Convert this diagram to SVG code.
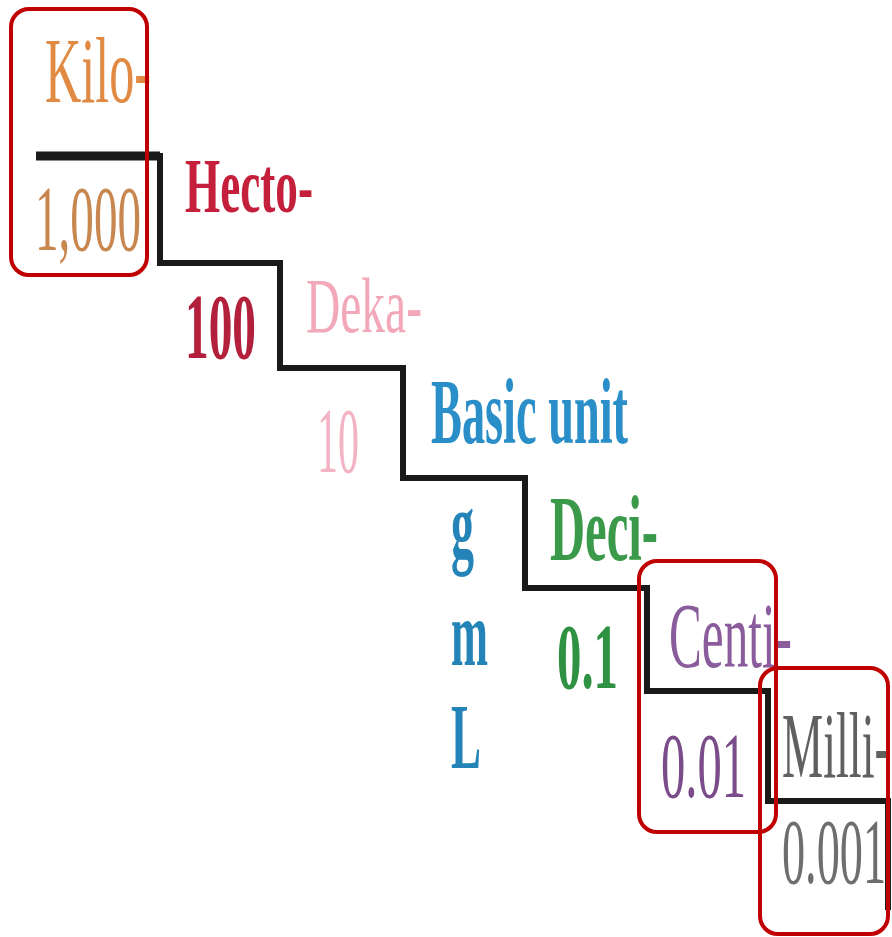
<svg xmlns="http://www.w3.org/2000/svg" width="892" height="937" viewBox="0 0 892 937">
<style>
.t{font-family:"Liberation Serif","Times New Roman",serif;font-weight:bold;font-size:94px}
.n{font-weight:normal}
.s{font-size:78px}
.stair{fill:none;stroke:#1a1a1a;stroke-width:6;stroke-linejoin:miter}
.hl{fill:none;stroke:#c00000;stroke-width:4}
</style>
<rect width="892" height="937" fill="#ffffff"/>
<g id="connectors">
<path class="stair" d="M36,156 H160 V263 H280 V368 H403 V478 H525 V588 H647 V691 H768 V801 H888 V910"/>
<path d="M36,156 H160" fill="none" stroke="#1a1a1a" stroke-width="9"/>
</g>
<g id="kilo">
<text class="t n" x="45" y="102" fill="#e08a44" textLength="106" lengthAdjust="spacingAndGlyphs">Kilo-</text>
<text class="t n" x="35" y="250" fill="#c8874e" textLength="106" lengthAdjust="spacingAndGlyphs">1,000</text>
</g>
<g id="hecto">
<text class="t s" x="185" y="212" fill="#c41f3b" textLength="128" lengthAdjust="spacingAndGlyphs">Hecto-</text>
<text class="t" x="185" y="358" fill="#b3203c" textLength="71" lengthAdjust="spacingAndGlyphs">100</text>
</g>
<g id="deka">
<text class="t s n" x="306" y="332" fill="#f2a8b8" textLength="116" lengthAdjust="spacingAndGlyphs">Deka-</text>
<text class="t n" x="317" y="472" fill="#f2b4c4" textLength="42" lengthAdjust="spacingAndGlyphs">10</text>
</g>
<g id="basic">
<text class="t" x="431" y="443" fill="#2a8fc8" textLength="197" lengthAdjust="spacingAndGlyphs">Basic unit</text>
<text class="t" x="451" y="557" fill="#2484b8" textLength="23" lengthAdjust="spacingAndGlyphs">g</text>
<text class="t" x="451" y="665" fill="#2484b8" textLength="37" lengthAdjust="spacingAndGlyphs">m</text>
<text class="t" x="451" y="768" fill="#2484b8" textLength="30" lengthAdjust="spacingAndGlyphs">L</text>
</g>
<g id="deci">
<text class="t" x="550" y="560" fill="#3a9a4a" textLength="108" lengthAdjust="spacingAndGlyphs">Deci-</text>
<text class="t" x="557" y="688" fill="#2f9142" textLength="61" lengthAdjust="spacingAndGlyphs">0.1</text>
</g>
<g id="centi">
<text class="t n" x="669" y="667" fill="#8a5c9c" textLength="123" lengthAdjust="spacingAndGlyphs">Centi-</text>
<text class="t n" x="661" y="797" fill="#7a4c8a" textLength="85" lengthAdjust="spacingAndGlyphs">0.01</text>
</g>
<g id="milli">
<text class="t n" x="782" y="777" fill="#606060" textLength="108" lengthAdjust="spacingAndGlyphs">Milli-</text>
<text class="t n" x="782" y="883" fill="#6e6e6e" textLength="104" lengthAdjust="spacingAndGlyphs">0.001</text>
</g>
<g id="highlights">
<rect class="hl" x="11" y="9" width="136" height="266" rx="18"/>
<rect class="hl" x="639" y="561" width="137" height="271" rx="18"/>
<rect class="hl" x="760" y="668" width="128" height="266" rx="18"/>
</g>
</svg>
